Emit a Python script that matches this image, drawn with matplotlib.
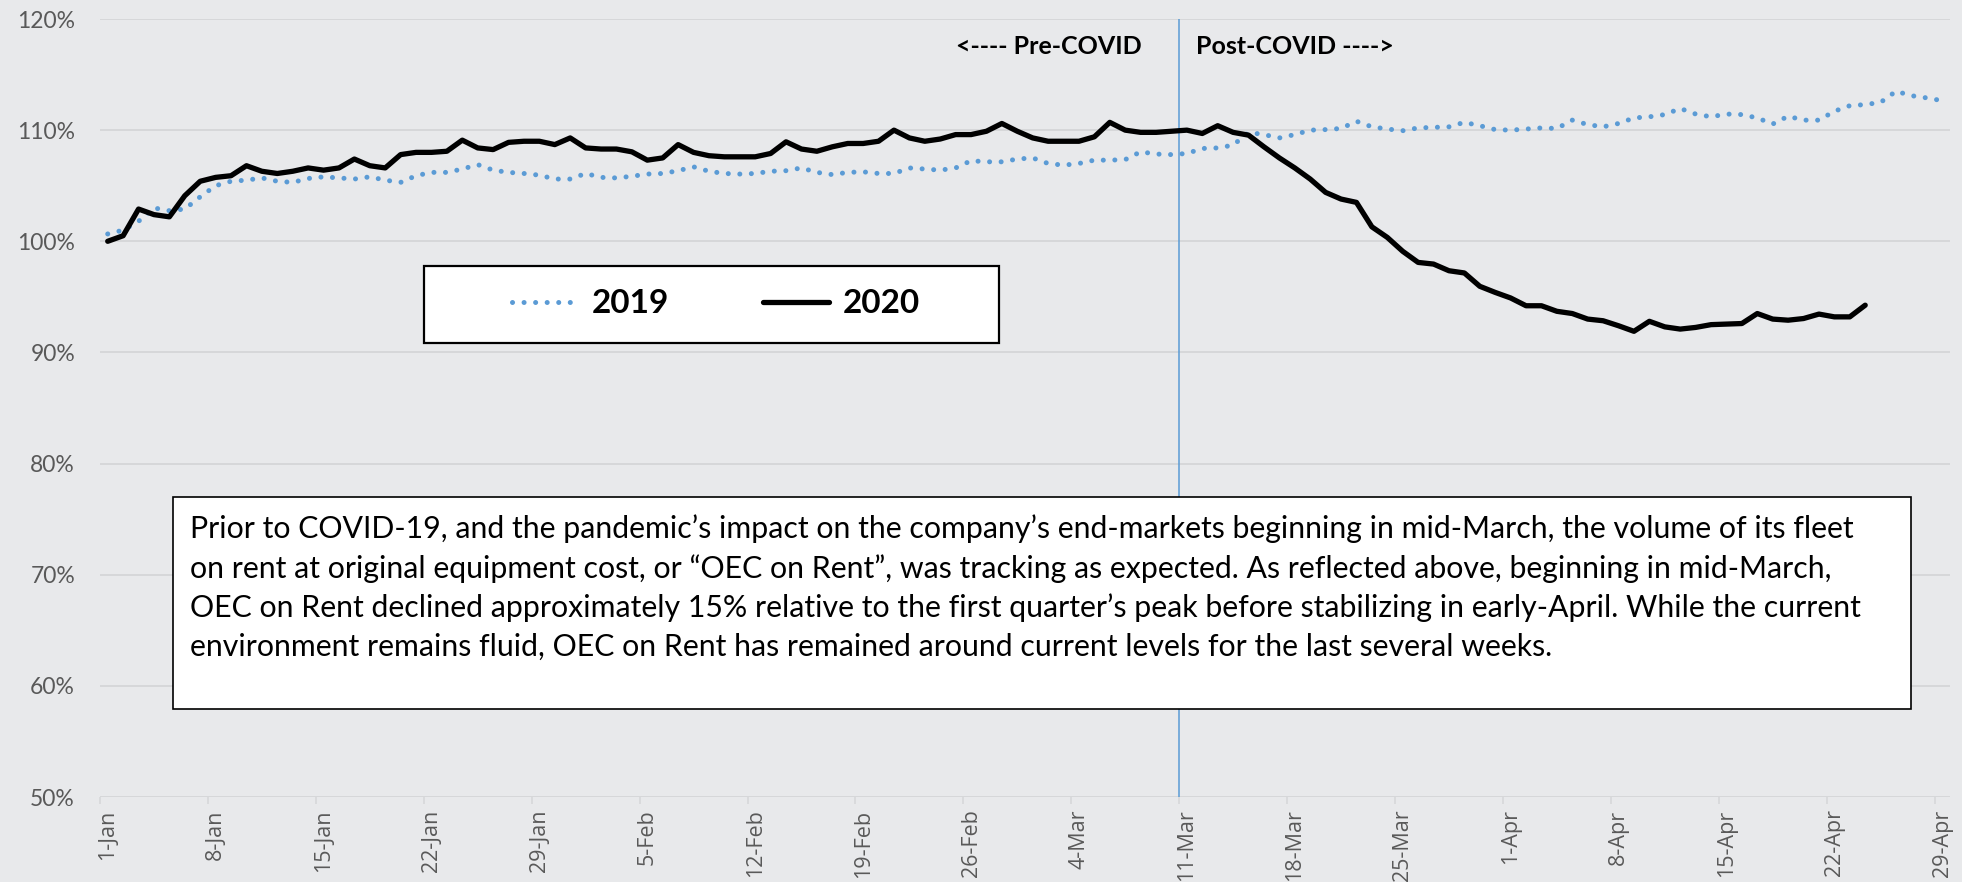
import numpy as np
import matplotlib
matplotlib.use("Agg")
import matplotlib.pyplot as plt
from matplotlib.patches import Rectangle
from matplotlib.ticker import FixedLocator, FuncFormatter

# daily index, 1-Jan .. 29-Apr (120 days)
tick_labels = ["1-Jan", "8-Jan", "15-Jan", "22-Jan", "29-Jan", "5-Feb", "12-Feb",
               "19-Feb", "26-Feb", "4-Mar", "11-Mar", "18-Mar", "25-Mar", "1-Apr",
               "8-Apr", "15-Apr", "22-Apr", "29-Apr"]

oec_2019 = [100.66, 101.0, 101.8, 103.0, 102.75, 102.9, 104.0, 105.0, 105.4, 105.5,
            105.7, 105.4, 105.3, 105.65, 105.8, 105.7, 105.6, 105.8, 105.5, 105.3,
            105.9, 106.2, 106.2, 106.5, 106.9, 106.4, 106.2, 106.1, 105.95, 105.6,
            105.6, 106.1, 105.75, 105.7, 105.85, 106.05, 106.1, 106.35, 106.7, 106.3,
            106.1, 106.05, 106.1, 106.3, 106.35, 106.6, 106.2, 106.0, 106.2, 106.25,
            106.1, 106.1, 106.6, 106.5, 106.4, 106.6, 107.25, 107.15, 107.15, 107.4,
            107.5, 107.0, 106.85, 107.0, 107.3, 107.3, 107.35, 108.05, 107.85, 107.8,
            107.9, 108.35, 108.4, 108.65, 109.8, 109.6, 109.3, 109.6, 110.0, 110.05,
            110.15, 110.8, 110.3, 110.1, 109.95, 110.2, 110.25, 110.3, 110.7, 110.4,
            110.05, 110.0, 110.1, 110.2, 110.15, 110.9, 110.5, 110.3, 110.6, 111.1,
            111.2, 111.4, 111.95, 111.45, 111.2, 111.45, 111.4, 111.1, 110.55, 111.25,
            110.9, 110.9, 111.7, 112.2, 112.3, 112.5, 113.5, 113.1, 112.9, 112.65]

oec_2020 = [100.0, 100.5, 102.9, 102.4, 102.2, 104.1, 105.4, 105.75, 105.9, 106.8,
            106.3, 106.1, 106.3, 106.6, 106.4, 106.6, 107.4, 106.8, 106.6, 107.8,
            108.0, 108.0, 108.1, 109.1, 108.4, 108.25, 108.9, 109.0, 109.0, 108.7,
            109.3, 108.4, 108.3, 108.3, 108.05, 107.3, 107.5, 108.7, 108.0, 107.7,
            107.6, 107.6, 107.6, 107.9, 108.95, 108.3, 108.1, 108.5, 108.8, 108.8,
            109.0, 110.0, 109.3, 109.0, 109.2, 109.6, 109.6, 109.9, 110.6, 109.9,
            109.3, 109.0, 109.0, 109.0, 109.4, 110.7, 110.0, 109.8, 109.8, 109.9,
            110.0, 109.7, 110.4, 109.8, 109.55, 108.5, 107.5, 106.6, 105.6, 104.4,
            103.8, 103.5, 101.3, 100.35, 99.1, 98.1, 97.95, 97.35, 97.15, 95.95,
            95.4, 94.9, 94.2, 94.2, 93.7, 93.5, 93.0, 92.85, 92.4, 91.9,
            92.8, 92.3, 92.1, 92.25, 92.5, 92.55, 92.6, 93.5, 93.0, 92.9,
            93.05, 93.45, 93.2, 93.2, 94.25]

covid_day = 69.5  # boundary before 11-Mar

note = ("Prior to COVID-19, and the pandemic\u2019s impact on the company\u2019s end-markets beginning in mid-March, the volume of its fleet\n"
        "on rent at original equipment cost, or \u201cOEC on Rent\u201d, was tracking as expected. As reflected above, beginning in mid-March,\n"
        "OEC on Rent declined approximately 15% relative to the first quarter\u2019s peak before stabilizing in early-April. While the current\n"
        "environment remains fluid, OEC on Rent has remained around current levels for the last several weeks.")

bg = "#E8E9EB"
grid = "#D6D7D9"
blue = "#5B9BD5"

fig = plt.figure(figsize=(19.62, 8.82), dpi=100, facecolor=bg)
ax = fig.add_axes([100 / 1962, 1 - 797 / 882, 1850 / 1962, 778 / 882])
ax.set_facecolor(bg)

x19 = np.arange(len(oec_2019))
x20 = np.arange(len(oec_2020))
ax.plot(x19, oec_2019, color=blue, lw=3.6, linestyle=(0, (0.01, 2.3)),
        dash_capstyle="round", label="2019", zorder=3)
ax.plot(x20, oec_2020, color="black", lw=3.8, solid_joinstyle="round",
        solid_capstyle="round", label="2020", zorder=4)
ax.axvline(covid_day, color=blue, lw=1.1, zorder=2)

ax.set_xlim(-0.5, 119.5)
ax.set_ylim(50, 120)
ax.set_yticks(range(50, 121, 10))
ax.yaxis.set_major_formatter(FuncFormatter(lambda v, p: f"{v:.0f}%"))
ax.grid(axis="y", color=grid, lw=1.4, zorder=1)
ax.tick_params(axis="y", length=0, pad=18, labelsize=16.5, labelcolor="#595959")
for lab in ax.get_yticklabels():
    lab.set_fontfamily("Lato")

ax.set_xticks(np.arange(0, 120, 7))
ax.set_xticklabels(tick_labels, rotation=90, fontsize=15.5, color="#595959",
                   fontfamily="Open Sans")
ax.xaxis.set_minor_locator(FixedLocator(np.arange(-0.5, 120, 7)))
ax.tick_params(axis="x", which="major", length=0, pad=9)
ax.tick_params(axis="x", which="minor", length=5, width=1.2, color=grid)
for s in ax.spines.values():
    s.set_visible(False)

# covid annotations
ax.annotate("<---- Pre-COVID", xy=(covid_day, 1), xycoords=("data", "axes fraction"),
            xytext=(-27, -20), textcoords="offset points", ha="right", va="center",
            fontsize=18, fontweight="bold", fontfamily="Lato")
ax.annotate("Post-COVID ---->", xy=(covid_day, 1), xycoords=("data", "axes fraction"),
            xytext=(12, -20), textcoords="offset points", ha="left", va="center",
            fontsize=18, fontweight="bold", fontfamily="Lato")

# legend in a boxed area
ax.add_patch(Rectangle((0.175, 0.583), 0.311, 0.099, transform=ax.transAxes,
                       facecolor="white", edgecolor="black", lw=1.6, zorder=6))
leg = ax.legend(loc="center", bbox_to_anchor=(0.333, 0.634), ncol=2, frameon=False,
                prop={"family": "Lato", "weight": "bold", "size": 24},
                handlelength=2.0, handletextpad=0.4, columnspacing=2.8)
leg.set_zorder(7)

# commentary box
ax.add_patch(Rectangle((0.0393, 0.1125), 0.9395, 0.2725, transform=ax.transAxes,
                       facecolor="white", edgecolor="black", lw=1.2, zorder=6))
ax.text(0.0486, 0.364, note, transform=ax.transAxes, ha="left", va="top",
        fontsize=21.8, fontfamily="Lato", linespacing=1.47, zorder=7)

fig.savefig("out.png", dpi=100, facecolor=bg)
